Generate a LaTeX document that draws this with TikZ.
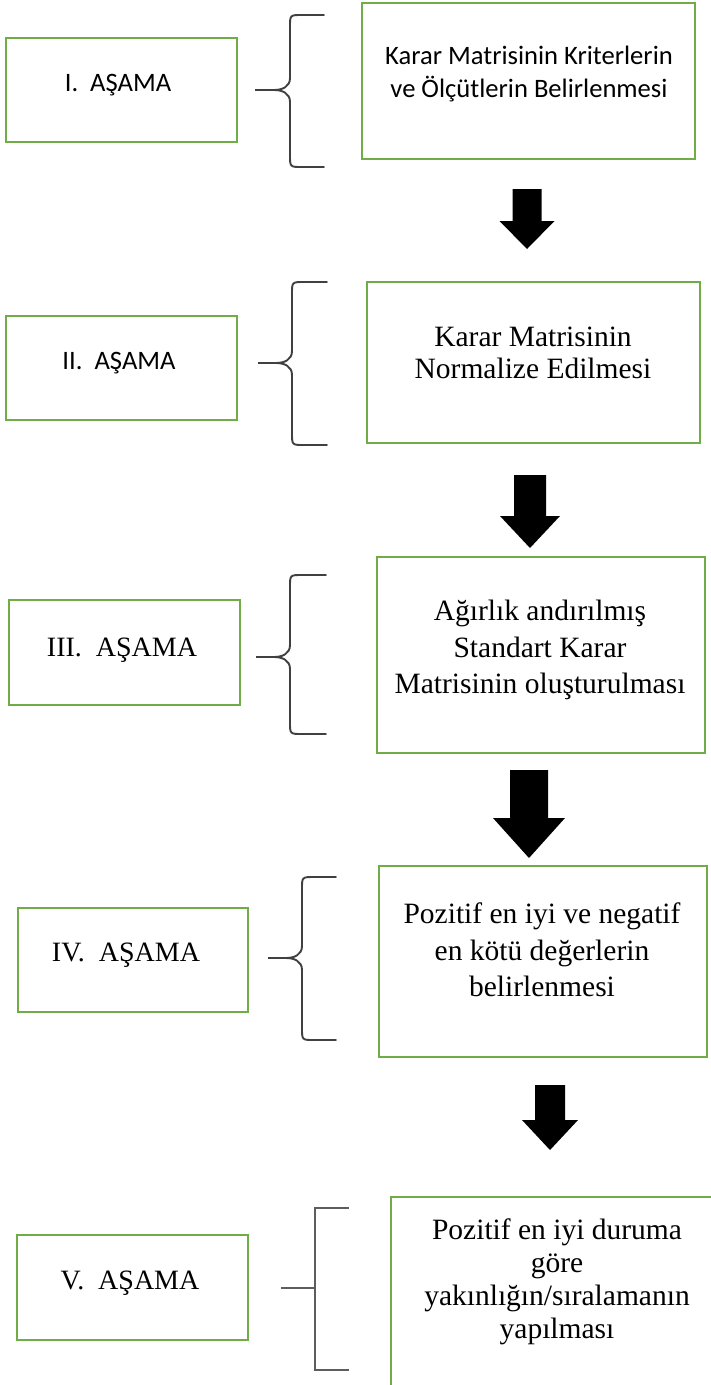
\documentclass[tikz,border=0pt]{standalone}
\usepackage{fontspec}
\setmainfont{Liberation Serif}
\newfontfamily\calibrifont{Carlito}
\usetikzlibrary{positioning}
\definecolor{boxgreen}{RGB}{112,173,71}
\definecolor{bracegray}{RGB}{64,64,64}

\tikzset{
  stagebox/.style={draw=boxgreen, line width=1.5pt, inner sep=0pt},
  bracepen/.style={draw=bracegray, line width=1.9pt, line cap=round},
  bracketpen/.style={draw=bracegray!85, line width=1.4pt},
  sanslabel/.style={font=\calibrifont\fontsize{26.6}{32.5}\selectfont, align=center},
  seriflabel/.style={font=\fontsize{28}{34}\selectfont, align=center},
  seriftext/.style={font=\fontsize{29.5}{36.5}\selectfont, align=center}
}

% curly brace: tip x, stem x, end x, top y, bottom y, tip y
\newcommand{\stagebrace}[6]{%
  \draw[bracepen] (#3,#4) -- ({#2+12},#4) .. controls (#2,#4) .. (#2,{#4+12})
    -- (#2,{#6-12}) .. controls (#2,{#6-3}) and ({#2-8},#6) .. ({#2-16},#6) -- (#1,#6)
    -- ({#2-16},#6) .. controls ({#2-8},#6) and (#2,{#6+3}) .. (#2,{#6+12})
    -- (#2,{#5-12}) .. controls (#2,#5) .. ({#2+12},#5) -- (#3,#5);}

% block arrow: x, top y, tip y, head y, half shaft, half head
\newcommand{\stagearrow}[6]{%
  \fill ({#1-#5},#2) -- ({#1+#5},#2) -- ({#1+#5},#4) -- ({#1+#6},#4)
    -- (#1,#3) -- ({#1-#6},#4) -- ({#1-#5},#4) -- cycle;}

\begin{document}
\begin{tikzpicture}[x=1pt, y=-1pt]
  \useasboundingbox (0,0) rectangle (711,1385);
  \fill[white] (0,0) rectangle (711,1385);
  \clip (0,0) rectangle (711,1385);

  % I. stage
  \node[stagebox, minimum width=231pt, minimum height=104pt] (stage1) at (121.5,90) {};
  \node[sanslabel] (stage1 label) at (118,85) {I.~~AŞAMA};
  \stagebrace{255}{290}{324}{15}{167}{90}
  \node[stagebox, minimum width=333pt, minimum height=156pt] (step1) at (528.5,81) {};
  \node[sanslabel] (step1 text) at (529,74) {Karar Matrisinin Kriterlerin\\ve Ölçütlerin Belirlenmesi};
  \stagearrow{527}{189}{249}{221}{14.5}{27.5}

  % II. stage
  \node[stagebox, minimum width=231pt, minimum height=104pt] (stage2) at (121.5,368) {};
  \node[sanslabel] (stage2 label) at (119,363) {II.~~AŞAMA};
  \stagebrace{258}{292}{327}{282}{445}{363}
  \node[stagebox, minimum width=333pt, minimum height=161pt] (step2) at (533.5,362.5) {};
  \node[seriftext, font=\fontsize{29.5}{32}\selectfont] (step2 text) at (533,353) {Karar Matrisinin\\Normalize Edilmesi};
  \stagearrow{530}{475}{548}{516}{16}{30}

  % III. stage
  \node[stagebox, minimum width=231pt, minimum height=105pt] (stage3) at (124.5,652.5) {};
  \node[seriflabel] (stage3 label) at (122,650) {III.~~AŞAMA};
  \stagebrace{256}{290}{326}{575}{734}{657}
  \node[stagebox, minimum width=328pt, minimum height=196pt] (step3) at (541,655) {};
  \node[seriftext] (step3 text) at (540,650) {Ağırlık andırılmış\\Standart Karar\\Matrisinin oluşturulması};
  \stagearrow{529}{770}{858}{818}{19}{36}

  % IV. stage
  \node[stagebox, minimum width=230pt, minimum height=104pt] (stage4) at (133,960) {};
  \node[seriflabel] (stage4 label) at (126,955) {IV.~~AŞAMA};
  \stagebrace{268}{302}{336}{877}{1040}{958}
  \node[stagebox, minimum width=328pt, minimum height=191pt] (step4) at (543,961.5) {};
  \node[seriftext] (step4 text) at (542,950) {Pozitif en iyi ve negatif\\en kötü değerlerin\\belirlenmesi};
  \stagearrow{550}{1085}{1150}{1120}{15}{28}

  % V. stage
  \node[stagebox, minimum width=231pt, minimum height=105pt] (stage5) at (132.5,1287.5) {};
  \node[seriflabel] (stage5 label) at (130,1283) {V.~~AŞAMA};
  \draw[bracketpen] (349,1208) -- (315,1208) -- (315,1370) -- (349,1370);
  \draw[bracketpen] (281,1288) -- (315,1288);
  \node[stagebox, minimum width=334pt, minimum height=213pt] (step5) at (558,1303.5) {};
  \node[seriftext, font=\fontsize{29.5}{33}\selectfont] (step5 text) at (557,1282) {Pozitif en iyi duruma\\göre\\yakınlığın/sıralamanın\\yapılması};
\end{tikzpicture}
\end{document}
